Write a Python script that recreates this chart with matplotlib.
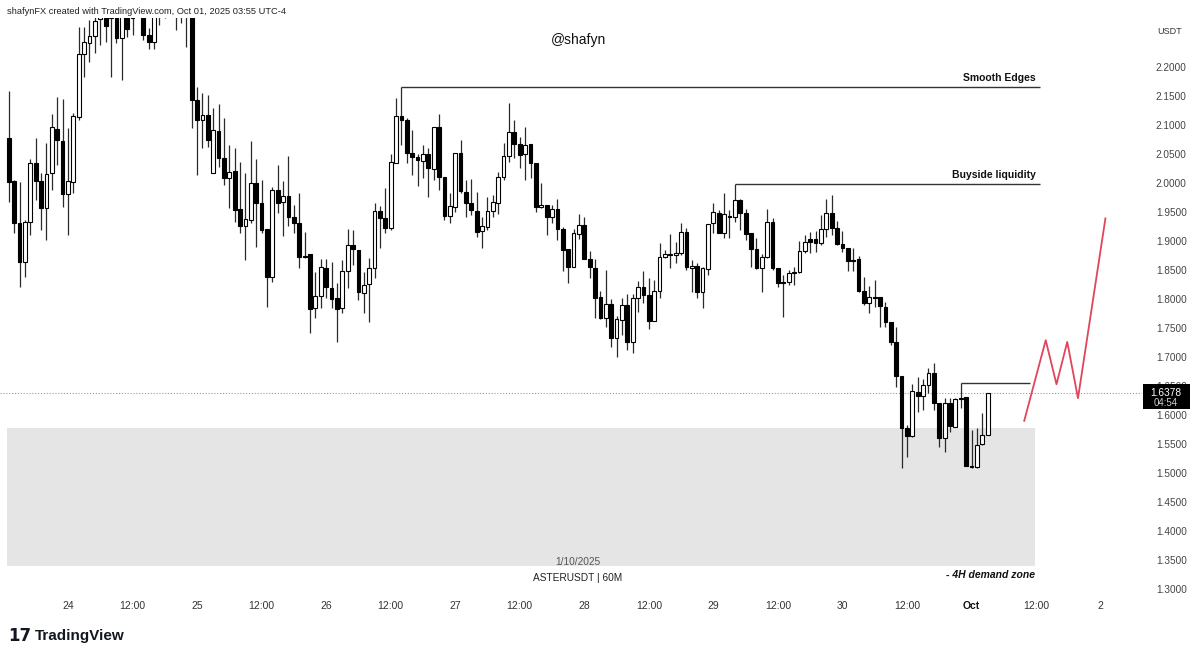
import numpy as np
import matplotlib
matplotlib.use("Agg")
import matplotlib.pyplot as plt
from matplotlib.patches import Rectangle

# ---------------- data (ASTERUSDT, 60m, prices in USDT) ----------------
opens = [2.078, 2.003, 1.931, 1.864, 1.933, 2.035, 2.003, 1.957, 2.017, 2.093,
         2.072, 1.981, 2.002, 2.114, 2.222, 2.241, 2.254, 2.283, 2.298, 2.285,
         2.307, 2.250, 2.298, 2.285, 2.320, 2.340, 2.255, 2.243, 2.300, 2.290,
         2.330, 2.300, 2.320, 2.300, 2.310, 2.143, 2.109, 2.117, 2.017, 2.090,
         2.043, 2.009, 2.021, 1.955, 1.926, 1.936, 2.000, 1.966, 1.921, 1.838,
         1.988, 1.967, 1.978, 1.941, 1.931, 1.874, 1.878, 1.785, 1.805, 1.853,
         1.819, 1.802, 1.785, 1.848, 1.893, 1.885, 1.810, 1.826, 1.853, 1.952,
         1.940, 1.922, 2.035, 2.116, 2.109, 2.052, 2.045, 2.038, 2.050, 2.024,
         2.097, 2.010, 1.943, 1.958, 2.052, 1.984, 1.966, 1.952, 1.917, 1.924,
         1.952, 1.966, 2.010, 2.047, 2.088, 2.067, 2.050, 2.067, 2.035, 1.958,
         1.962, 1.941, 1.955, 1.921, 1.886, 1.855, 1.912, 1.928, 1.869, 1.853,
         1.803, 1.767, 1.791, 1.733, 1.764, 1.790, 1.726, 1.802, 1.821, 1.807,
         1.762, 1.814, 1.872, 1.878, 1.876, 1.879, 1.916, 1.853, 1.857, 1.812,
         1.852, 1.931, 1.948, 1.914, 1.943, 1.941, 1.971, 1.948, 1.914, 1.886,
         1.853, 1.872, 1.933, 1.853, 1.829, 1.829, 1.845, 1.847, 1.883, 1.903,
         1.903, 1.897, 1.921, 1.948, 1.922, 1.895, 1.888, 1.867, 1.869, 1.814,
         1.793, 1.803, 1.803, 1.786, 1.760, 1.726, 1.667, 1.578, 1.564, 1.640,
         1.633, 1.652, 1.672, 1.621, 1.560, 1.621, 1.579, 1.629, 1.631, 1.512,
         1.510, 1.550, 1.565]
highs = [2.159, 2.005, 2.002, 1.936, 2.041, 2.078, 2.017, 2.069, 2.119, 2.148,
         2.145, 2.095, 2.121, 2.269, 2.269, 2.281, 2.290, 2.316, 2.316, 2.325,
         2.325, 2.316, 2.316, 2.335, 2.355, 2.350, 2.267, 2.315, 2.330, 2.345,
         2.360, 2.340, 2.335, 2.330, 2.325, 2.165, 2.155, 2.152, 2.129, 2.136,
         2.112, 2.066, 2.060, 2.036, 2.017, 2.072, 2.041, 2.005, 1.921, 1.993,
         2.031, 2.003, 2.047, 1.962, 1.983, 1.915, 1.878, 1.847, 1.869, 1.869,
         1.864, 1.828, 1.867, 1.921, 1.919, 1.885, 1.847, 1.871, 1.966, 1.960,
         1.991, 2.050, 2.147, 2.1655, 2.112, 2.091, 2.050, 2.066, 2.060, 2.097,
         2.119, 2.010, 1.983, 2.052, 2.074, 2.005, 2.007, 1.984, 1.941, 1.976,
         1.979, 2.019, 2.069, 2.138, 2.109, 2.079, 2.097, 2.067, 2.035, 2.000,
         1.962, 1.962, 1.972, 1.924, 1.886, 1.921, 1.947, 1.941, 1.883, 1.869,
         1.814, 1.850, 1.800, 1.771, 1.802, 1.809, 1.809, 1.831, 1.848, 1.836,
         1.833, 1.897, 1.885, 1.912, 1.898, 1.931, 1.922, 1.867, 1.862, 1.855,
         1.929, 1.966, 1.953, 1.983, 1.953, 1.998, 1.972, 1.955, 1.914, 1.905,
         1.878, 1.955, 1.940, 1.853, 1.841, 1.850, 1.855, 1.900, 1.910, 1.915,
         1.917, 1.945, 1.972, 1.979, 1.934, 1.917, 1.888, 1.888, 1.874, 1.838,
         1.822, 1.833, 1.803, 1.795, 1.760, 1.752, 1.667, 1.583, 1.653, 1.665,
         1.662, 1.681, 1.690, 1.621, 1.629, 1.629, 1.629, 1.655, 1.631, 1.574,
         1.578, 1.603, 1.6378]
lows = [1.967, 1.914, 1.821, 1.838, 1.910, 1.971, 1.919, 1.902, 1.988, 2.031,
        1.959, 1.910, 1.983, 2.109, 2.183, 2.209, 2.224, 2.238, 2.243, 2.183,
        2.241, 2.178, 2.252, 2.255, 2.290, 2.247, 2.231, 2.231, 2.272, 2.285,
        2.290, 2.264, 2.276, 2.234, 2.095, 2.014, 2.060, 2.062, 2.017, 2.028,
        1.997, 1.957, 1.933, 1.914, 1.867, 1.931, 1.890, 1.914, 1.786, 1.829,
        1.948, 1.909, 1.926, 1.914, 1.853, 1.871, 1.741, 1.767, 1.785, 1.802,
        1.785, 1.726, 1.776, 1.819, 1.859, 1.798, 1.776, 1.760, 1.836, 1.888,
        1.914, 1.919, 2.035, 2.066, 2.035, 2.014, 1.995, 2.009, 1.976, 2.005,
        1.988, 1.936, 1.931, 1.950, 1.983, 1.941, 1.945, 1.907, 1.888, 1.919,
        1.941, 1.947, 2.005, 2.036, 2.043, 2.026, 2.005, 2.009, 1.950, 1.957,
        1.910, 1.931, 1.902, 1.848, 1.828, 1.855, 1.903, 1.869, 1.836, 1.767,
        1.765, 1.752, 1.717, 1.700, 1.738, 1.712, 1.707, 1.778, 1.793, 1.748,
        1.762, 1.802, 1.871, 1.853, 1.862, 1.876, 1.850, 1.812, 1.802, 1.785,
        1.841, 1.914, 1.914, 1.905, 1.905, 1.933, 1.919, 1.902, 1.855, 1.852,
        1.812, 1.871, 1.850, 1.821, 1.769, 1.824, 1.824, 1.845, 1.879, 1.879,
        1.881, 1.893, 1.907, 1.910, 1.893, 1.881, 1.848, 1.848, 1.812, 1.790,
        1.776, 1.786, 1.752, 1.752, 1.721, 1.648, 1.509, 1.528, 1.562, 1.605,
        1.609, 1.638, 1.609, 1.545, 1.536, 1.571, 1.579, 1.612, 1.512, 1.509,
        1.509, 1.548, 1.565]
closes = [2.002, 1.931, 1.864, 1.933, 2.035, 2.003, 1.957, 2.016, 2.097, 2.074,
          1.981, 2.003, 2.116, 2.222, 2.243, 2.254, 2.279, 2.302, 2.271, 2.307,
          2.250, 2.298, 2.266, 2.320, 2.340, 2.255, 2.243, 2.300, 2.290, 2.330,
          2.300, 2.320, 2.300, 2.310, 2.143, 2.109, 2.117, 2.074, 2.091, 2.043,
          2.009, 2.019, 1.953, 1.926, 1.938, 2.000, 1.966, 1.919, 1.838, 1.988,
          1.966, 1.978, 1.941, 1.931, 1.872, 1.872, 1.783, 1.805, 1.855, 1.821,
          1.800, 1.783, 1.848, 1.893, 1.886, 1.812, 1.824, 1.853, 1.952, 1.940,
          1.922, 2.036, 2.116, 2.109, 2.052, 2.045, 2.040, 2.050, 2.026, 2.097,
          2.010, 1.943, 1.960, 2.052, 1.986, 1.966, 1.953, 1.916, 1.926, 1.952,
          1.967, 2.010, 2.047, 2.088, 2.067, 2.048, 2.066, 2.035, 1.958, 1.962,
          1.941, 1.955, 1.921, 1.885, 1.855, 1.914, 1.928, 1.869, 1.855, 1.802,
          1.767, 1.791, 1.733, 1.765, 1.790, 1.726, 1.802, 1.821, 1.807, 1.762,
          1.814, 1.872, 1.878, 1.876, 1.879, 1.916, 1.855, 1.857, 1.812, 1.853,
          1.929, 1.950, 1.914, 1.947, 1.941, 1.971, 1.948, 1.912, 1.886, 1.853,
          1.872, 1.933, 1.853, 1.828, 1.828, 1.845, 1.847, 1.883, 1.898, 1.898,
          1.897, 1.921, 1.948, 1.922, 1.895, 1.888, 1.865, 1.865, 1.814, 1.793,
          1.803, 1.802, 1.788, 1.760, 1.726, 1.667, 1.578, 1.564, 1.641, 1.633,
          1.652, 1.672, 1.621, 1.560, 1.621, 1.581, 1.628, 1.627, 1.512, 1.510,
          1.548, 1.565, 1.6378]

start_hour = -11          # first candle: 23 Sep 13:00 (hours from 24 Sep 00:00, UTC-4)
tick_hours = [0, 12, 24, 36, 48, 60, 72, 84, 96, 108, 120, 132, 144, 156, 168, 180, 192]
tick_labels = ["24", "12:00", "25", "12:00", "26", "12:00", "27", "12:00", "28",
               "12:00", "29", "12:00", "30", "12:00", "Oct", "12:00", "2"]
price_ticks = [1.30, 1.35, 1.40, 1.45, 1.50, 1.55, 1.60, 1.65, 1.70, 1.75, 1.80,
               1.85, 1.90, 1.95, 2.00, 2.05, 2.10, 2.15, 2.20]
last_price = 1.6378
zone_top, zone_bottom = 1.578, 1.340
zone_start, zone_end = -11.3, 179.8
smooth_idx, buyside_idx, local_idx = 73, 135, 177
label_line_end = 180.7
local_line_end = 178.8
proj_hours = [177.8, 181.8, 183.8, 185.8, 187.8, 192.9]
proj_prices = [1.590, 1.729, 1.653, 1.726, 1.629, 1.939]

# ---------------- figure ----------------
W, H = 1199, 658
fig = plt.figure(figsize=(W / 100, H / 100), dpi=100)
fig.patch.set_facecolor("white")
FONT = ["Liberation Sans", "DejaVu Sans"]
plt.rcParams["font.family"] = FONT

def fx(x):
    return x / W

def fy(y):
    return 1 - y / H

pane_top, pane_bot, pane_right = 18, 594, 1142
ax = fig.add_axes([0, fy(pane_bot), fx(pane_right), (pane_bot - pane_top) / H])
ax.set_xlim(-12.64, 199.7)
ax.set_ylim(1.2914, 2.2845)
for s in ax.spines.values():
    s.set_visible(False)

o = np.array(opens); h = np.array(highs); l = np.array(lows); c = np.array(closes)
t = start_hour + np.arange(len(o))
up = c >= o

# demand zone
ax.add_patch(Rectangle((zone_start, zone_bottom), zone_end - zone_start,
                       zone_top - zone_bottom, facecolor="#e5e5e5",
                       edgecolor="none", zorder=0))

# candles
ax.vlines(t, l, h, color="#2a2a2a", lw=0.9, zorder=2)
bottom = np.minimum(o, c)
height = np.maximum(np.abs(c - o), 0.0016)
ax.bar(t, height, bottom=bottom, width=0.7,
       color=np.where(up, "white", "black"), edgecolor="black",
       linewidth=0.8, zorder=3)

# last price dotted line
ax.axhline(last_price, color="#9a9a9a", lw=0.8, ls=(0, (1, 1.6)), zorder=1)

# horizontal level lines
ax.hlines(h[smooth_idx], t[smooth_idx], label_line_end, color="#333333", lw=1, zorder=4)
ax.hlines(h[buyside_idx], t[buyside_idx], label_line_end, color="#333333", lw=1, zorder=4)
ax.hlines(h[local_idx], t[local_idx], local_line_end, color="#333333", lw=1, zorder=4)
ax.annotate("Smooth Edges", (label_line_end, h[smooth_idx]), xytext=(-3, 3),
            textcoords="offset points", ha="right", va="bottom",
            fontsize=7.5, fontweight="bold", color="#111111")
ax.annotate("Buyside liquidity", (label_line_end, h[buyside_idx]), xytext=(-3, 3),
            textcoords="offset points", ha="right", va="bottom",
            fontsize=7.5, fontweight="bold", color="#111111")

# projected path
ax.plot(proj_hours, proj_prices, color="#e0455b", lw=1.3, zorder=5)

# axes ticks
ax.set_xticks(tick_hours)
ax.set_xticklabels(tick_labels)
ax.tick_params(axis="x", length=0, pad=5, labelsize=7.5, labelcolor="#333333")
for lab in ax.get_xticklabels():
    if lab.get_text() == "Oct":
        lab.set_fontweight("bold")
        lab.set_color("#111111")
ax.yaxis.tick_right()
ax.set_yticks(price_ticks)
ax.set_yticklabels([f"{v:.4f}" for v in price_ticks])
ax.tick_params(axis="y", length=0, pad=10, labelsize=7.2, labelcolor="#444444")

# texts
fig.text(fx(7), fy(11), "shafynFX created with TradingView.com, Oct 01, 2025 03:55 UTC-4",
         ha="left", va="center", fontsize=6.7, color="#222222")
fig.text(fx(578), fy(40), "@shafyn", ha="center", va="center", fontsize=10, color="#111111")
fig.text(fx(578), fy(562), "1/10/2025", ha="center", va="center", fontsize=7.3, color="#555555")
fig.text(fx(578), fy(578), "ASTERUSDT | 60M", ha="center", va="center", fontsize=7.3, color="#222222")
fig.text(fx(1035), fy(575), "- 4H demand zone", ha="right", va="center", fontsize=7.5,
         fontweight="bold", fontstyle="italic", color="#111111")
fig.text(fx(1170), fy(31), "USDT", ha="center", va="center", fontsize=6.5, color="#333333")

# last price tag
fig.add_artist(Rectangle((fx(1143), fy(409)), fx(47), 25 / H, transform=fig.transFigure,
                         facecolor="black", edgecolor="none", zorder=10))
fig.text(fx(1166), fy(393), f"{last_price:.4f}", ha="center", va="center", fontsize=7.3,
         color="white", zorder=11)
fig.text(fx(1166), fy(403.5), "04:54", ha="center", va="center", fontsize=7,
         color="#d0d0d0", zorder=11)

# TradingView logo
fig.text(fx(8), fy(636), "17", ha="left", va="center", fontsize=12, fontweight="heavy",
         color="#131722", family="DejaVu Sans")
fig.text(fx(35), fy(636), "TradingView", ha="left", va="center", fontsize=11,
         fontweight="bold", color="#131722")

fig.savefig("out.png", dpi=100, facecolor="white")
